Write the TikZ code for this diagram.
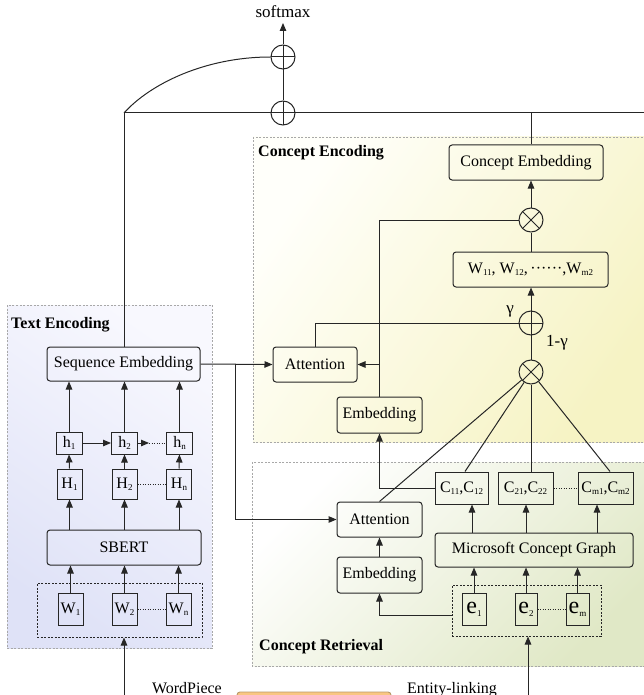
\documentclass[tikz,border=0pt]{standalone}
\usepackage{fontspec}
\setmainfont{Liberation Serif}
\newfontfamily\timesface{Liberation Serif}
\usetikzlibrary{arrows.meta,calc}

\definecolor{teTop}{HTML}{F8F8FE}
\definecolor{teBot}{HTML}{DFE2F7}
\definecolor{ceLight}{HTML}{FFFFFA}
\definecolor{ceDark}{HTML}{F6F3C4}
\definecolor{crLight}{HTML}{FFFFFF}
\definecolor{crDark}{HTML}{E0E8C6}
\definecolor{panelEdge}{HTML}{A8A8A8}
\definecolor{ink}{HTML}{262626}
\definecolor{orangeFill}{HTML}{F9C682}
\definecolor{orangeEdge}{HTML}{B89868}

% lowered small index
\newcommand{\idx}[1]{\raisebox{-0.3ex}{\fontsize{9}{9}\selectfont #1}}

\tikzset{
  every node/.style={font=\timesface},
  panel/.style={draw=panelEdge, dash pattern=on 2pt off 1.5pt, line width=0.6pt},
  rbox/.style={draw=ink, rounded corners=3pt, line width=1pt, inner sep=0pt,
    font=\timesface\fontsize{16}{18}\selectfont},
  sbox/.style={draw=ink, line width=1pt, inner sep=0pt,
    font=\timesface\fontsize{16}{18}\selectfont},
  dbox/.style={draw=ink, dash pattern=on 2pt off 1.5pt, line width=1pt, inner sep=0pt},
  conn/.style={draw=ink, line width=1pt},
  arr/.style={conn, -{Triangle[length=8pt,width=6.5pt]}},
  dots/.style={draw=ink, line width=1pt, dash pattern=on 1pt off 1.5pt},
  plusnode/.style={circle, draw=ink, line width=1pt, minimum size=24pt, inner sep=0pt,
    path picture={\draw[ink, line width=1pt]
      (path picture bounding box.north) -- (path picture bounding box.south)
      (path picture bounding box.west) -- (path picture bounding box.east);}},
  timesnode/.style={circle, draw=ink, line width=1pt, minimum size=24pt, inner sep=0pt,
    path picture={\draw[ink, line width=1pt]
      (path picture bounding box.north west) -- (path picture bounding box.south east)
      (path picture bounding box.north east) -- (path picture bounding box.south west);}},
  title/.style={font=\timesface\bfseries\fontsize{16}{18}\selectfont, anchor=west, inner sep=0pt},
  plain/.style={font=\timesface\fontsize{16}{18}\selectfont, inner sep=0pt},
  big/.style={font=\timesface\fontsize{17}{19}\selectfont, inner sep=0pt},
  ebx/.style={sbox, minimum height=32pt, font=\timesface\fontsize{24}{24}\selectfont},
}

\begin{document}
\begin{tikzpicture}[x=1pt, y=-1pt]
\useasboundingbox (0,0) rectangle (644,695);
\clip (0,0) rectangle (644,695);

% ---------- panels ----------
\draw[panel, top color=teTop, bottom color=teBot, shading angle=-35] (7,305) rectangle (212,648);
\draw[panel, top color=ceLight, bottom color=ceDark, shading angle=55] (253,137) rectangle (652,442);
\draw[panel, top color=crLight, bottom color=crDark, shading angle=45] (252,462) rectangle (652,666);

\node[title] (teT) at (11,325) {Text Encoding};
\node[title] (ceT) at (258,153) {Concept Encoding};
\node[title] (crT) at (259,647) {Concept Retrieval};

% ---------- text encoding ----------
\node[rbox, minimum width=153pt, minimum height=34pt] (seq) at (123.5,364) {Sequence Embedding};

\node[sbox, minimum width=26pt, minimum height=22pt] (h1) at (69,443) {h\idx{1}};
\node[sbox, minimum width=26pt, minimum height=22pt] (h2) at (124.5,443) {h\idx{2}};
\node[sbox, minimum width=26pt, minimum height=22pt] (hn) at (179.5,443) {h\idx{n}};

\node[sbox, minimum width=25pt, minimum height=30pt] (H1) at (69.5,484) {H\idx{1}};
\node[sbox, minimum width=25pt, minimum height=30pt] (H2) at (124.5,484) {H\idx{2}};
\node[sbox, minimum width=25pt, minimum height=30pt] (Hn) at (179,484) {H\idx{n}};

\node[rbox, minimum width=154pt, minimum height=35pt] (sbert) at (124,547.5) {SBERT};

\node[dbox, minimum width=165pt, minimum height=54pt] (wgrp) at (119.5,610) {};
\node[sbox, minimum width=25pt, minimum height=32pt] (W1) at (70.5,609) {W\idx{1}};
\node[sbox, minimum width=25pt, minimum height=32pt] (W2) at (124.5,609) {W\idx{2}};
\node[sbox, minimum width=25pt, minimum height=32pt] (Wn) at (178.5,609) {W\idx{n}};

\foreach \a/\b in {W1/H1, W2/H2, Wn/Hn}{
  \draw[arr] (\a.north) -- (\a.north |- sbert.south);
  \draw[arr] (\b.south |- sbert.north) -- (\b.south);
}
\draw[arr] (H1.north) -- (h1.south);
\draw[arr] (H2.north) -- (h2.south);
\draw[arr] (Hn.north) -- (hn.south);
\draw[arr] (h1.north) -- (h1.north |- seq.south);
\draw[arr] (h2.north) -- (h2.north |- seq.south);
\draw[arr] (hn.north) -- (hn.north |- seq.south);

\draw[arr] (h1.east) -- (h2.west);
\coordinate (hdot) at (149,443);
\draw[arr] (h2.east) -- (hdot);
\draw[dots] (hdot) -- (hn.west);
\draw[dots] (H2.east) -- (Hn.west);
\draw[dots] (W2.east) -- (Wn.west);

\coordinate (wIn) at (124,700);
\draw[arr] (wIn) -- (wIn |- wgrp.south);

% ---------- output ----------
\coordinate (topL) at (124,113);
\coordinate (topR) at (660,113);
\node[plusnode] (opl) at (283,113) {};
\node[plusnode] (opu) at (283,57) {};
\node[big] (sm) at (283,12) {softmax};

\draw[conn] (seq.north -| topL) -- (topL) -- (topR);
\draw[conn] (topL) .. controls (150,84) and (205,57) .. (opu.west);
\draw[conn] (opl.north) -- (opu.south);
\draw[arr] (opu.north) -- (283,23);

% ---------- concept encoding ----------
\node[rbox, minimum width=154pt, minimum height=35pt] (ce) at (526,162.5) {Concept Embedding};
\node[timesnode] (ott) at (531,220) {};
\node[rbox, minimum width=155pt, minimum height=35pt] (wbox) at (530.5,269.5)
  {W\idx{11}, W\idx{12},\,······,W\idx{m2}};
\node[plusnode] (opm) at (531,323) {};
\node[timesnode] (otb) at (531,372) {};
\node[big] (gam) at (510,311) {γ};
\node[big] (omg) at (557,343) {1-γ};

\node[rbox, minimum width=84pt, minimum height=35pt] (attU) at (315,364.5) {Attention};
\node[rbox, minimum width=85pt, minimum height=36pt] (embU) at (379.5,415) {Embedding};

\draw[arr] (otb.north) -- (wbox.south -| otb);
\draw[conn] (wbox.north -| ott) -- (ott.south);
\draw[arr] (ott.north) -- (ce.south -| ott);
\draw[conn] (ce.north -| ott) -- (ott |- topR);

\draw[conn] (attU.north) |- (opm.west);
\draw[conn] (embU.north) |- (ott.west);
\draw[arr] (embU.north |- attU.east) -- (attU.east);

\draw[arr] (seq.east) -- (attU.west);
\coordinate (br) at (235,364);

% ---------- concept retrieval ----------
\node[sbox, minimum width=53pt, minimum height=32pt] (C1) at (461.5,488) {C\idx{11},C\idx{12}};
\node[sbox, minimum width=55pt, minimum height=32pt] (C2) at (525.5,488) {C\idx{21},C\idx{22}};
\node[sbox, minimum width=55pt, minimum height=32pt] (Cm) at (605.5,488) {C\idx{m1},C\idx{m2}};
\draw[dots] (C2.east) -- (Cm.west);

\node[rbox, minimum width=85pt, minimum height=35pt] (attL) at (379.5,519.5) {Attention};
\node[rbox, minimum width=198pt, minimum height=34pt] (mcg) at (534,550) {Microsoft Concept Graph};
\node[rbox, minimum width=85pt, minimum height=36pt] (embL) at (379.5,575) {Embedding};

\node[dbox, minimum width=149pt, minimum height=51pt] (ebox) at (526.5,610.5) {};
\node[ebx, minimum width=24pt] (e1) at (474,609) {e\idx{1}};
\node[ebx, minimum width=22pt] (e2) at (526,609) {e\idx{2}};
\node[ebx, minimum width=23pt] (em) at (577.5,609) {e\idx{m}};
\draw[dots] (e2.east) -- (em.west);

\draw[arr] (br) |- (attL.west);

\draw[arr] (e1.north) -- (e1.north |- mcg.south);
\draw[arr] (e2.north) -- (e2.north |- mcg.south);
\draw[arr] (em.north) -- (em.north |- mcg.south);
\draw[arr] (mcg.north -| 472,0) -- (C1.south -| 472,0);
\draw[arr] (mcg.north -| 526,0) -- (C2.south -| 526,0);
\draw[arr] (mcg.north -| 597,0) -- (Cm.south -| 597,0);

\draw[arr] (ebox.west |- 0,615) -| (embL.south);
\draw[arr] (embL.north) -- (attL.south);
\draw[arr] (C1.west) -| (embU.south);

\draw[conn] (attL.north) -- (otb);
\draw[conn] (C1.north -| 465,0) -- (otb);
\draw[conn] (C2.north -| otb) -- (otb.south);
\draw[conn] (Cm.north -| 610,0) -- (otb);

\coordinate (eIn) at (528,700);
\draw[arr] (eIn) -- (eIn |- ebox.south);

% ---------- preprocessing row ----------
\node[plain, anchor=base east] (wp) at (222,693) {WordPiece};
\draw[draw=orangeEdge, fill=orangeFill, rounded corners=3pt, line width=0.9pt] (237,692) rectangle (391,730);
\node[plain, anchor=base west] (el) at (407,693) {Entity-linking};

\end{tikzpicture}
\end{document}
